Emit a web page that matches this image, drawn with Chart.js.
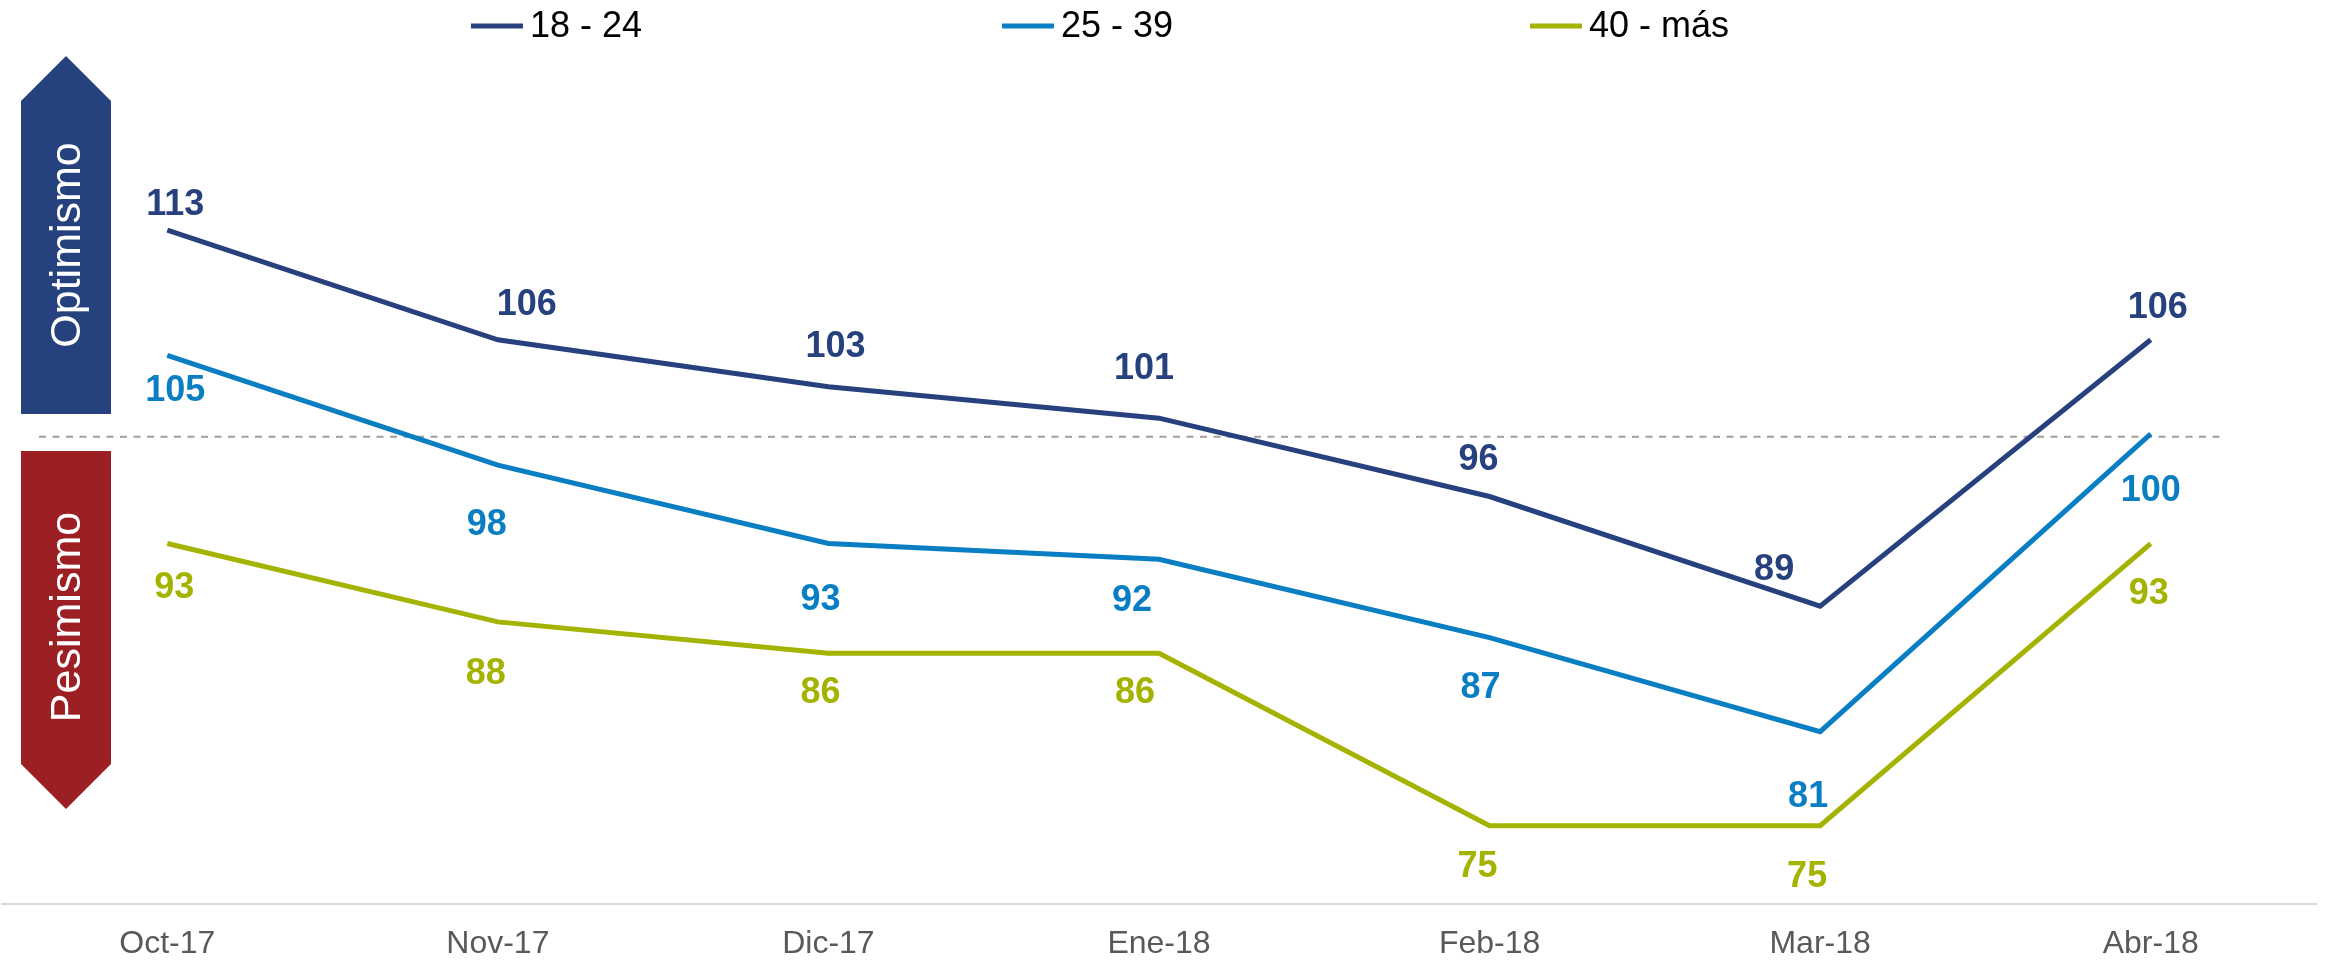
<!DOCTYPE html>
<html><head><meta charset="utf-8">
<script src="https://cdn.jsdelivr.net/npm/chart.js@4.4.1/dist/chart.umd.min.js"></script>
<style>html,body{margin:0;padding:0;background:#fff;overflow:hidden}#wrap{width:2329px;height:961px;position:relative}</style>
</head><body><div id="wrap"><canvas id="c" width="2329" height="961"></canvas></div>
<script>
// ---- data ----
const categories = ['Oct-17','Nov-17','Dic-17','Ene-18','Feb-18','Mar-18','Abr-18'];
const seriesNames = ['18 - 24','25 - 39','40 - más'];
const values1824 = [113,106,103,101,96,89,106];
const values2539 = [105,98,93,92,87,81,100];
const values40mas = [93,88,86,86,75,75,93];
const referenceValue = 100;
const zoneLabels = ['Optimismo','Pesimismo'];

// ---- styles ----
const FONT = "'Liberation Sans', Arial, Helvetica, sans-serif";
const seriesColors = ['#27417E','#0A7EC2','#A4B300'];
const zoneColors = ['#25427F','#9C1F24'];

// label offsets (dx, dy) relative to each point, per series
const labelOffsets = [
  [[8,-25],[29,-35],[7,-40],[-15,-49],[-11,-36],[-46,-36],[7,-32]],
  [[8,36],[-11,60],[-8,57],[-27,42],[-9,51],[-12,65],[0,57]],
  [[7,45],[-12,52],[-8,40],[-24,40],[-12,41],[-13,51],[-2,51]]
];

Chart.defaults.font.family = FONT;

const refLinePlugin = {
  id: 'refLine',
  beforeDatasetsDraw(chart) {
    const {ctx, chartArea, scales} = chart;
    const y = scales.y.getPixelForValue(referenceValue) + 3;
    ctx.save();
    ctx.strokeStyle = '#a39d9d';
    ctx.lineWidth = 2;
    ctx.setLineDash([7, 6.5]);
    ctx.beginPath();
    ctx.moveTo(chartArea.left + 37, y);
    ctx.lineTo(chartArea.right - 92, y);
    ctx.stroke();
    ctx.restore();
  }
};

const zonePlugin = {
  id: 'zones',
  beforeDatasetsDraw(chart) {
    const {ctx} = chart;
    const x1 = 21, x2 = 111, xc = (x1 + x2) / 2;
    ctx.save();
    ctx.fillStyle = zoneColors[0];
    ctx.beginPath();
    ctx.moveTo(xc, 56);
    ctx.lineTo(x2, 101);
    ctx.lineTo(x2, 414);
    ctx.lineTo(x1, 414);
    ctx.lineTo(x1, 101);
    ctx.closePath();
    ctx.fill();
    ctx.fillStyle = zoneColors[1];
    ctx.beginPath();
    ctx.moveTo(x1, 451);
    ctx.lineTo(x2, 451);
    ctx.lineTo(x2, 764);
    ctx.lineTo(xc, 809);
    ctx.lineTo(x1, 764);
    ctx.closePath();
    ctx.fill();
    ctx.fillStyle = '#ffffff';
    ctx.font = '43px ' + FONT;
    ctx.textAlign = 'center';
    ctx.textBaseline = 'middle';
    [[zoneLabels[0], 245], [zoneLabels[1], 617]].forEach(([t, cy]) => {
      ctx.save();
      ctx.translate(xc + 2, cy);
      ctx.rotate(-Math.PI / 2);
      ctx.fillText(t, 0, 0);
      ctx.restore();
    });
    ctx.restore();
  }
};

const labelPlugin = {
  id: 'pointLabels',
  afterDatasetsDraw(chart) {
    const {ctx} = chart;
    ctx.save();
    ctx.font = 'bold 36px ' + FONT;
    ctx.textAlign = 'center';
    ctx.textBaseline = 'middle';
    chart.data.datasets.forEach((ds, di) => {
      const meta = chart.getDatasetMeta(di);
      ctx.fillStyle = ds.borderColor;
      meta.data.forEach((pt, i) => {
        const off = labelOffsets[di][i];
        ctx.fillText(String(ds.data[i]), pt.x + off[0], pt.y + off[1]);
      });
    });
    ctx.restore();
  }
};

const legendPlugin = {
  id: 'customLegend',
  afterDraw(chart) {
    const {ctx} = chart;
    const xs = [471, 1002, 1530];
    const y = 26;
    ctx.save();
    ctx.font = '36px ' + FONT;
    ctx.textBaseline = 'middle';
    ctx.textAlign = 'left';
    chart.data.datasets.forEach((ds, i) => {
      ctx.strokeStyle = ds.borderColor;
      ctx.lineWidth = 5;
      ctx.beginPath();
      ctx.moveTo(xs[i], y);
      ctx.lineTo(xs[i] + 52, y);
      ctx.stroke();
      ctx.fillStyle = '#000000';
      ctx.fillText(ds.label, xs[i] + 59, y + 1);
    });
    ctx.restore();
  }
};

const seriesValues = [values1824, values2539, values40mas];

new Chart(document.getElementById('c'), {
  type: 'line',
  data: {
    labels: categories,
    datasets: seriesNames.map((name, i) => ({
      label: name,
      data: seriesValues[i],
      borderColor: seriesColors[i],
      backgroundColor: seriesColors[i],
      borderWidth: 5,
      pointRadius: 0,
      pointHoverRadius: 0,
      tension: 0,
      fill: false,
      clip: false
    }))
  },
  options: {
    responsive: false,
    animation: false,
    devicePixelRatio: 1,
    layout: { padding: { top: 42, left: 2, right: 13, bottom: 0 } },
    plugins: { legend: { display: false }, tooltip: { enabled: false } },
    scales: {
      x: {
        offset: true,
        grid: { display: false, drawTicks: false },
        border: { display: true, color: '#d9d9d9', width: 2 },
        ticks: { color: '#595959', font: { size: 32 }, padding: 21, maxRotation: 0, autoSkip: false },
        afterFit(scale) { scale.height = 57; }
      },
      y: { display: false, min: 70, max: 125 }
    }
  },
  plugins: [refLinePlugin, zonePlugin, labelPlugin, legendPlugin]
});
</script>
</body></html>
